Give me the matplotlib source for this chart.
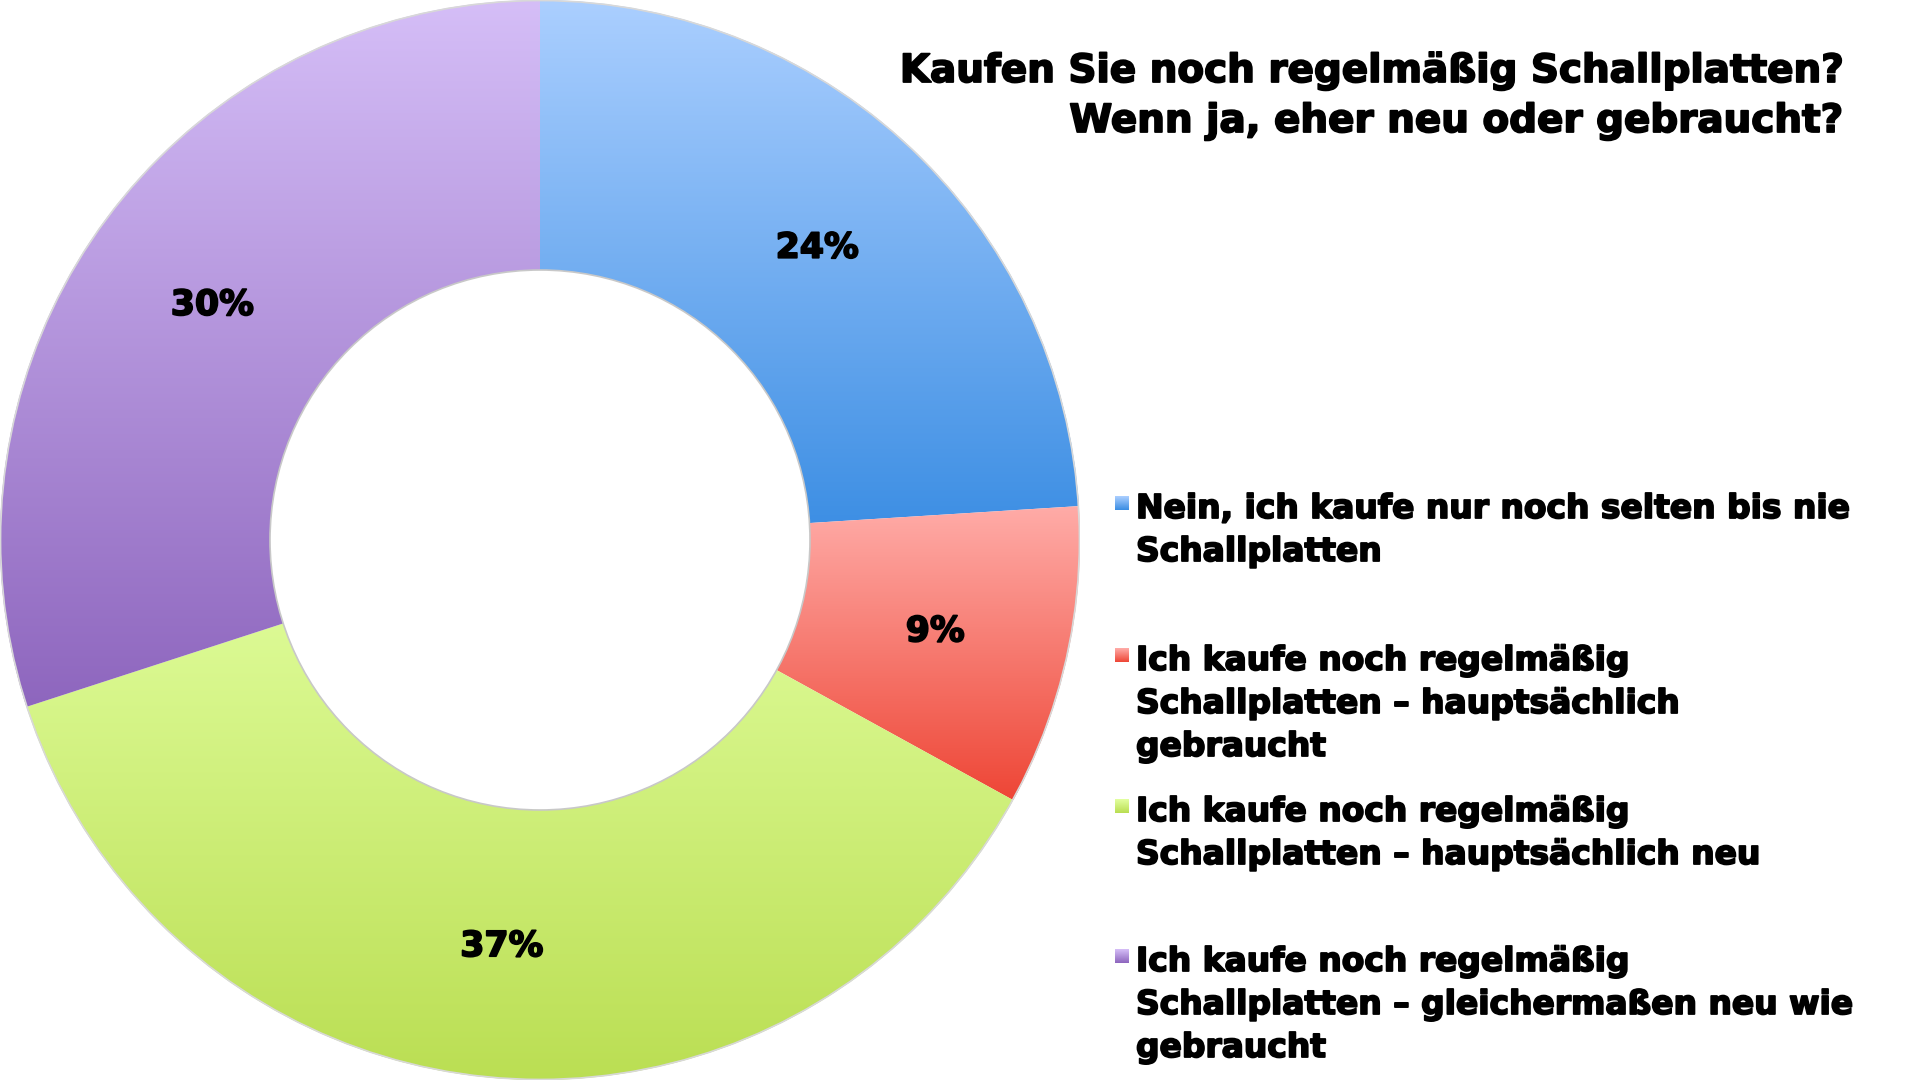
import numpy as np
import matplotlib
matplotlib.use('Agg')
import matplotlib.pyplot as plt
import matplotlib.patheffects as pe
from matplotlib.colors import LinearSegmentedColormap
from matplotlib.patches import Circle

plt.rcParams['font.family'] = ['DejaVu Sans']

title = 'Kaufen Sie noch regelmäßig Schallplatten?\nWenn ja, eher neu oder gebraucht?'
labels = [
    'Nein, ich kaufe nur noch selten bis nie\nSchallplatten',
    'Ich kaufe noch regelmäßig\nSchallplatten – hauptsächlich\ngebraucht',
    'Ich kaufe noch regelmäßig\nSchallplatten – hauptsächlich neu',
    'Ich kaufe noch regelmäßig\nSchallplatten – gleichermaßen neu wie\ngebraucht',
]
values = [24, 9, 37, 30]
top_colors = ['#abcfff', '#ffaca8', '#e2ffa0', '#d5bef7']
bottom_colors = ['#3a8de3', '#ee4636', '#bade52', '#8e66be']

# thicker strokes to get close to a "black" weight
heavy = [pe.withStroke(linewidth=1.3, foreground='black')]

fig = plt.figure(figsize=(19.2, 10.8), dpi=100)
ax = fig.add_axes([0, 0, 1080 / 1920, 1])

wedges, _ = ax.pie(values, startangle=90, counterclock=False, radius=1.0,
                   wedgeprops=dict(width=0.5, edgecolor='none', linewidth=0))

# vertical gradient inside each wedge
for w, c1, c2 in zip(wedges, top_colors, bottom_colors):
    verts = w.get_path().vertices
    y0, y1 = verts[:, 1].min(), verts[:, 1].max()
    x0, x1 = verts[:, 0].min(), verts[:, 0].max()
    cmap = LinearSegmentedColormap.from_list('g', [c2, c1])
    grad = np.linspace(0, 1, 256).reshape(-1, 1)
    im = ax.imshow(grad, cmap=cmap, origin='lower', aspect='auto',
                   extent=[x0, x1, y0, y1], zorder=2, interpolation='bilinear')
    im.set_clip_path(w)
    w.set_facecolor('none')

# faint rim lines
ax.add_patch(Circle((0, 0), 0.999, fill=False, edgecolor='#d8d8d8', lw=1.2, zorder=3))
ax.add_patch(Circle((0, 0), 0.5, fill=False, edgecolor='#c8c8c8', lw=1.2, zorder=3))

# percentage labels (baseline placed so caps sit centred on the ring)
cum = 0
for v in values:
    mid = np.deg2rad(90 - (cum + v / 2) / sum(values) * 360)
    cum += v
    ax.text(0.75 * np.cos(mid), 0.75 * np.sin(mid) - 0.024, f'{v}%', ha='center',
            va='baseline', fontsize=25, fontweight='bold', color='black', zorder=4,
            path_effects=heavy)

ax.set_xlim(-1.0, 1.0)
ax.set_ylim(-1.0, 1.0)
ax.set_aspect('equal')
ax.axis('off')

# overlay in pixel coordinates for title and legend
ov = fig.add_axes([0, 0, 1, 1], facecolor='none')
ov.axis('off')

for i, line in enumerate(title.split('\n')):
    ov.text(1842, 82 + i * 50, line, ha='right', va='baseline',
            fontsize=28, fontweight='bold', color='black', path_effects=heavy)

first_base = [518, 670, 821, 971]
line_gap = 43
for lab, yb, c1, c2 in zip(labels, first_base, top_colors, bottom_colors):
    cmap = LinearSegmentedColormap.from_list('g', [c1, c2])
    ov.imshow(np.linspace(0, 1, 32).reshape(-1, 1), cmap=cmap, aspect='auto',
              extent=[1115, 1129, yb - 8, yb - 22], zorder=2)
    for i, line in enumerate(lab.split('\n')):
        ov.text(1136, yb + i * line_gap, line, ha='left', va='baseline',
                fontsize=23.7, fontweight='bold', color='black', path_effects=heavy)
ov.set_xlim(0, 1920)
ov.set_ylim(1080, 0)

fig.savefig('out.png', dpi=100, facecolor='white')
